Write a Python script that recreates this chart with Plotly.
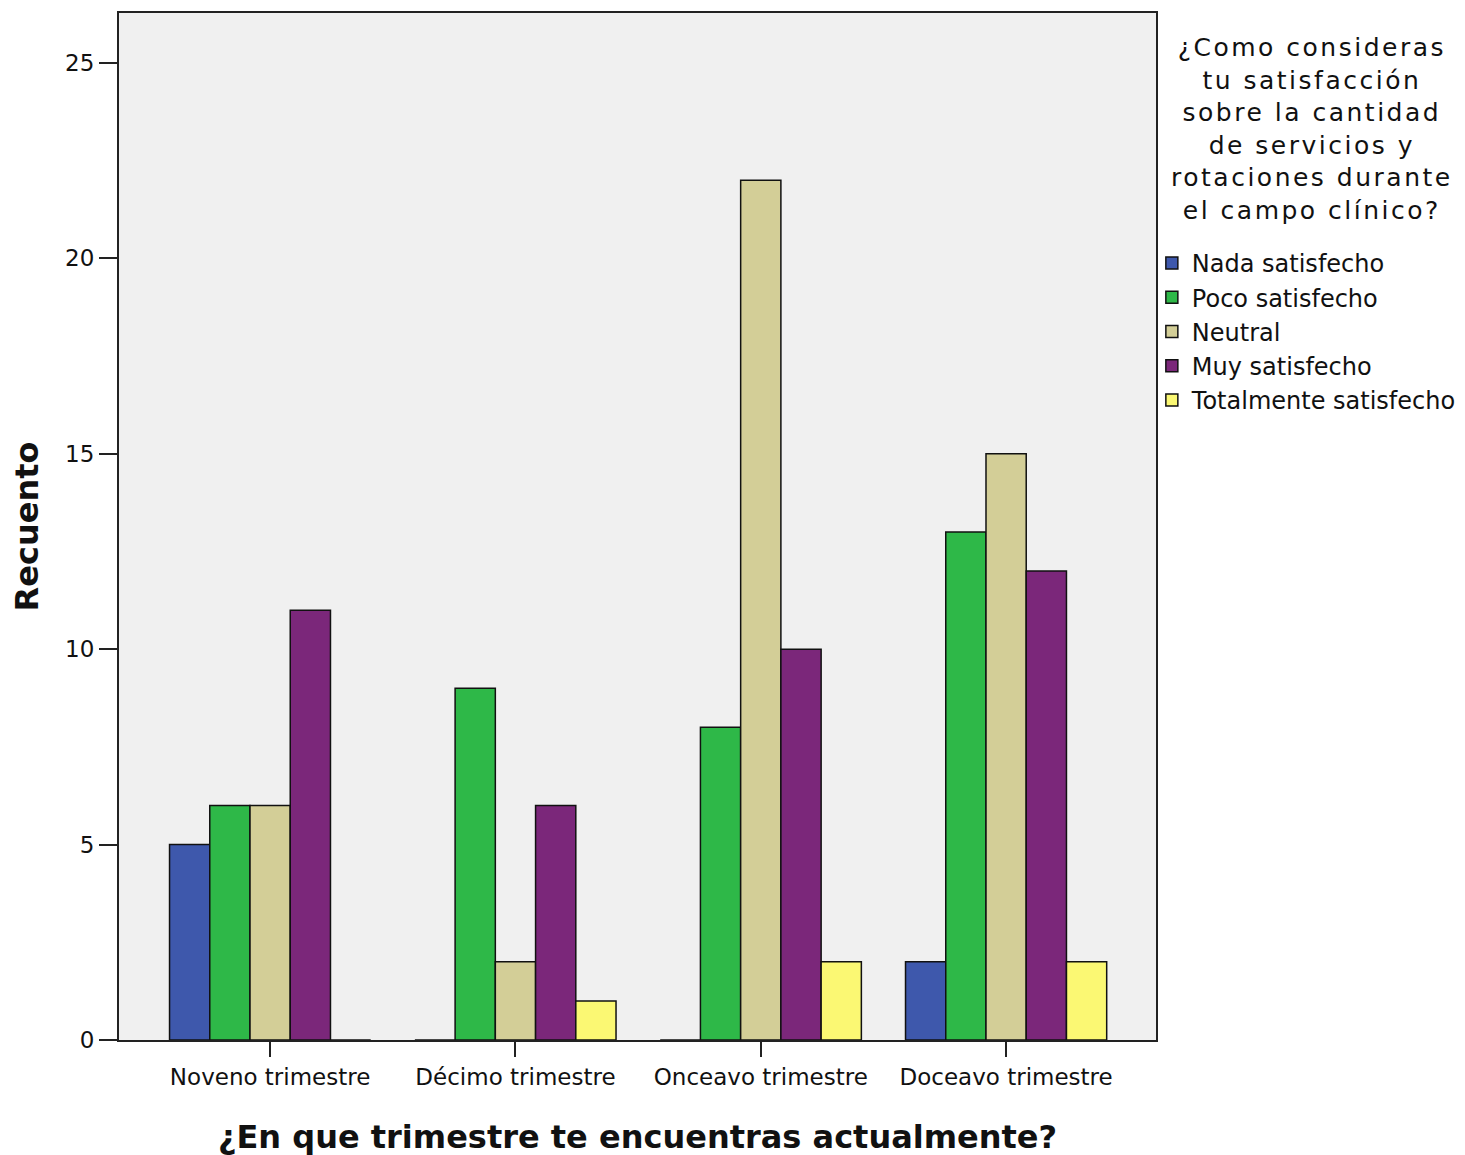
import plotly.graph_objects as go

categories = ["Noveno trimestre", "Décimo trimestre", "Onceavo trimestre", "Doceavo trimestre"]
series_names = ["Nada satisfecho", "Poco satisfecho", "Neutral", "Muy satisfecho", "Totalmente satisfecho"]
nada = [5, 0, 0, 2]
poco = [6, 9, 8, 13]
neutral = [6, 2, 22, 15]
muy = [11, 6, 10, 12]
totalmente = [0, 1, 2, 2]
colors = ["#3E58AC", "#2EB848", "#D3CE97", "#7B277A", "#FBF873"]
y_ticks = [0, 5, 10, 15, 20, 25]
legend_title_lines = ["¿Como consideras", "tu satisfacción", "sobre la cantidad",
                      "de servicios y", "rotaciones durante", "el campo clínico?"]

series_values = [nada, poco, neutral, muy, totalmente]

fig = go.Figure()
for name, vals, col in zip(series_names, series_values, colors):
    fig.add_trace(go.Bar(
        x=categories, y=vals, name=name,
        marker=dict(color=col, line=dict(color="#111111", width=1.5)),
        legendgroup=name,
    ))

fig.update_layout(
    width=1465, height=1155,
    margin=dict(l=111, r=317, t=5, b=123, autoexpand=False),
    paper_bgcolor="white",
    plot_bgcolor="#F0F0F0",
    barmode="group",
    bargap=0.18,
    bargroupgap=0,
    font=dict(family="DejaVu Sans", size=23, color="#111111"),
    showlegend=True,
    legend=dict(
        x=0.996, xanchor="left", y=0.778, yanchor="top",
        font=dict(family="DejaVu Sans", size=24, color="#111111"),
        bgcolor="rgba(0,0,0,0)",
        tracegroupgap=0,
    ),
    xaxis=dict(
        type="category",
        range=[-0.616, 3.611],
        automargin=False,
        showline=True, linecolor="#222222", linewidth=2, mirror=True,
        ticks="outside", ticklen=15, tickwidth=2, tickcolor="#222222",
        showgrid=False, zeroline=False,
        tickfont=dict(family="DejaVu Sans", size=23, color="#111111"),
        title=dict(text="<b>¿En que trimestre te encuentras actualmente?</b>",
                   font=dict(family="DejaVu Sans", size=32, color="#111111"),
                   standoff=37),
    ),
    yaxis=dict(
        range=[0, 26.28],
        tickvals=y_ticks,
        automargin=False,
        showline=True, linecolor="#222222", linewidth=2, mirror=True,
        ticks="outside", ticklen=18, tickwidth=2, tickcolor="#222222",
        showgrid=False, zeroline=False,
        tickfont=dict(family="DejaVu Sans", size=23, color="#111111"),
        title=dict(text="<b>Recuento</b>",
                   font=dict(family="DejaVu Sans", size=32, color="#111111"),
                   standoff=22),
    ),
)

span = "<span style='letter-spacing:2.5px'>{}</span>"
fig.add_annotation(
    xref="paper", yref="paper", x=1.1505, y=0.982, xanchor="center", yanchor="top",
    text="<br>".join(span.format(s) for s in legend_title_lines),
    showarrow=False, align="center",
    font=dict(family="DejaVu Sans", size=25, color="#111111"),
)

fig.write_html("out.html")
